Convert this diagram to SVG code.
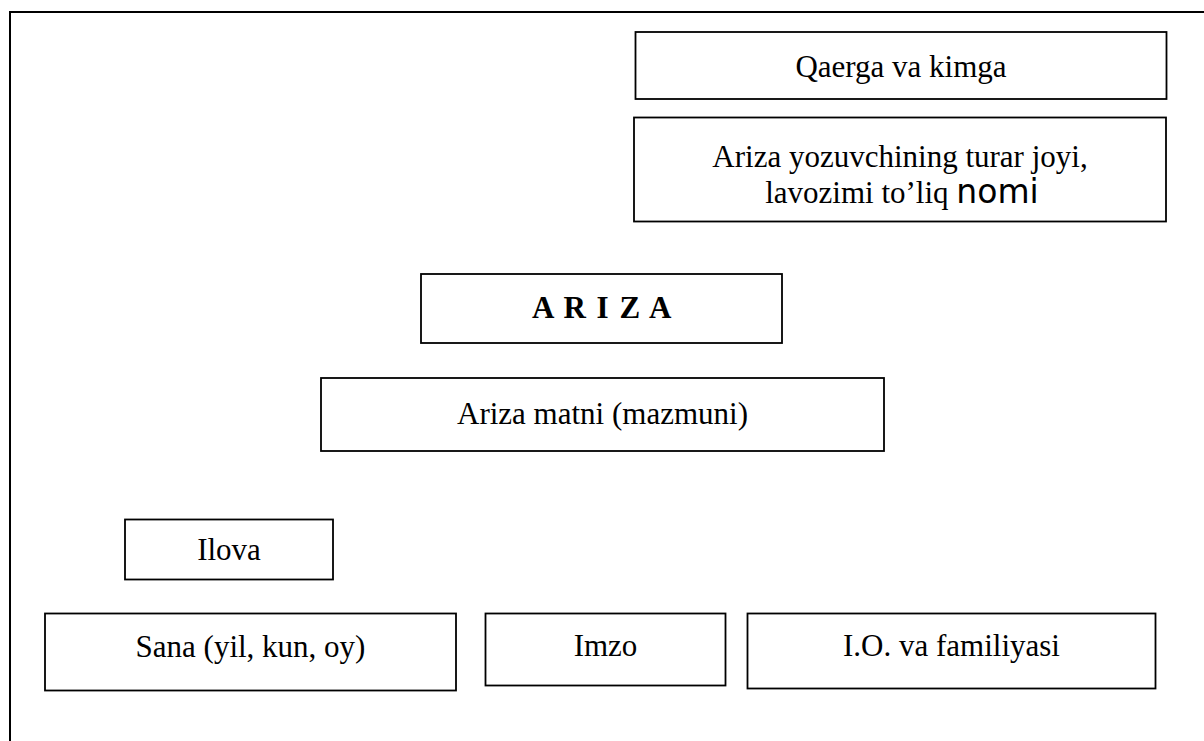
<svg xmlns="http://www.w3.org/2000/svg" width="1204" height="741" viewBox="0 0 1204 741">
<style>
.box{fill:#fff;stroke:#000;stroke-width:1.8}
.t{font-family:"Liberation Serif","Times New Roman",serif;font-size:31px;fill:#000;text-anchor:middle}
.b{font-weight:bold;letter-spacing:1.5px}
.frame{fill:none;stroke:#000;stroke-width:2}
</style>
<rect width="1204" height="741" fill="#fff"/>
<path class="frame" d="M10,741 V12 H1204"/>
<g id="connectors"/>
<g id="qaerga"><rect class="box" x="635.5" y="32" width="531" height="67"/><text class="t" x="901" y="77">Qaerga va kimga</text></g>
<g id="yozuvchi"><rect class="box" x="634" y="117.5" width="532" height="104"/><text class="t" x="900" y="167">Ariza yozuvchining turar joyi,</text><text class="t" x="902" y="203">lavozimi to’liq <tspan style="font-family:'DejaVu Sans',sans-serif;font-size:33px">nomi</tspan></text></g>
<g id="ariza"><rect class="box" x="421" y="274" width="361" height="69"/><text class="t b" x="602.5" y="318">A R I Z A</text></g>
<g id="matn"><rect class="box" x="321" y="378" width="563" height="73"/><text class="t" x="602.5" y="424">Ariza matni (mazmuni)</text></g>
<g id="ilova"><rect class="box" x="125" y="519.5" width="208" height="60"/><text class="t" x="229" y="560">Ilova</text></g>
<g id="sana"><rect class="box" x="45" y="613.5" width="411" height="77"/><text class="t" x="250.5" y="657">Sana (yil, kun, oy)</text></g>
<g id="imzo"><rect class="box" x="485.5" y="613.5" width="240" height="72"/><text class="t" x="605.5" y="656">Imzo</text></g>
<g id="fio"><rect class="box" x="747.5" y="613.5" width="408" height="75"/><text class="t" x="951.5" y="656">I.O. va familiyasi</text></g>
</svg>
